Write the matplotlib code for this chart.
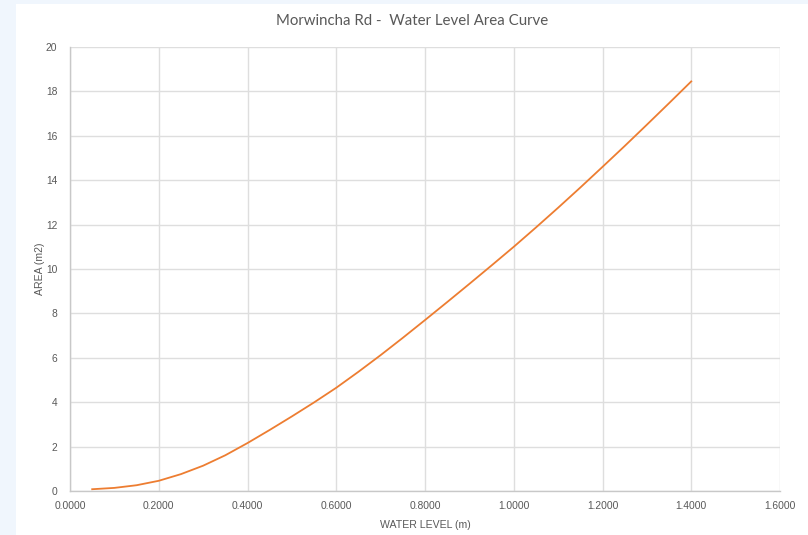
import numpy as np
import matplotlib.pyplot as plt
from matplotlib.patches import Rectangle

# water level (m) vs wetted area (m2)
level = [0.05, 0.10, 0.15, 0.20, 0.25, 0.30, 0.35, 0.40, 0.45, 0.50,
         0.55, 0.60, 0.65, 0.70, 0.75, 0.80, 0.85, 0.90, 0.95, 1.00,
         1.05, 1.10, 1.15, 1.20, 1.25, 1.30, 1.35, 1.40]
area = [0.08, 0.14, 0.26, 0.46, 0.76, 1.14, 1.61, 2.16, 2.75, 3.36,
        3.99, 4.65, 5.37, 6.12, 6.90, 7.70, 8.51, 9.33, 10.16, 11.00,
        11.87, 12.76, 13.67, 14.60, 15.54, 16.50, 17.47, 18.45]

xticks = [0.0, 0.2, 0.4, 0.6, 0.8, 1.0, 1.2, 1.4, 1.6]
yticks = [0, 2, 4, 6, 8, 10, 12, 14, 16, 18, 20]

grey = '#595959'

fig = plt.figure(figsize=(8.08, 5.35), dpi=100, facecolor='#F0F6FD')
# white chart area, kept behind the axes
fig.patches.append(Rectangle((16 / 808, 0), 1, 1 - 4 / 535, transform=fig.transFigure,
                             facecolor='white', edgecolor='none', zorder=-5))

ax = fig.add_axes([70 / 808, 1 - 491 / 535, 710 / 808, 444 / 535])
ax.set_facecolor('white')
ax.plot(level, area, color='#ED7D31', linewidth=1.3, zorder=3)

ax.set_xlim(0, 1.6)
ax.set_ylim(0, 20)
ax.set_xticks(xticks)
ax.set_xticklabels(['%.4f' % v for v in xticks])
ax.set_yticks(yticks)
ax.grid(True, color='#DEDEDE', linewidth=1.0)
ax.set_axisbelow(True)

for s in ['top', 'right']:
    ax.spines[s].set_visible(False)
for s in ['left', 'bottom']:
    ax.spines[s].set_color('#C8C8C8')
    ax.spines[s].set_linewidth(1.0)

ax.tick_params(length=0, labelsize=7.4, labelcolor=grey)
ax.tick_params(axis='y', pad=9)
ax.tick_params(axis='x', pad=7)
for lab in ax.get_xticklabels() + ax.get_yticklabels():
    lab.set_fontfamily('Liberation Sans')

ax.set_xlabel('WATER LEVEL (m)', fontsize=7.6, color=grey, family='Liberation Sans', labelpad=7)
ax.set_ylabel('AREA (m2)', fontsize=7.6, color=grey, family='Liberation Sans', labelpad=1)

fig.text(412 / 808, 1 - 21 / 535, 'Morwincha Rd -  Water Level Area Curve', ha='center', va='center',
         fontsize=10.8, color=grey, family='Lato')

fig.savefig('out.png', dpi=100, facecolor=fig.get_facecolor())
